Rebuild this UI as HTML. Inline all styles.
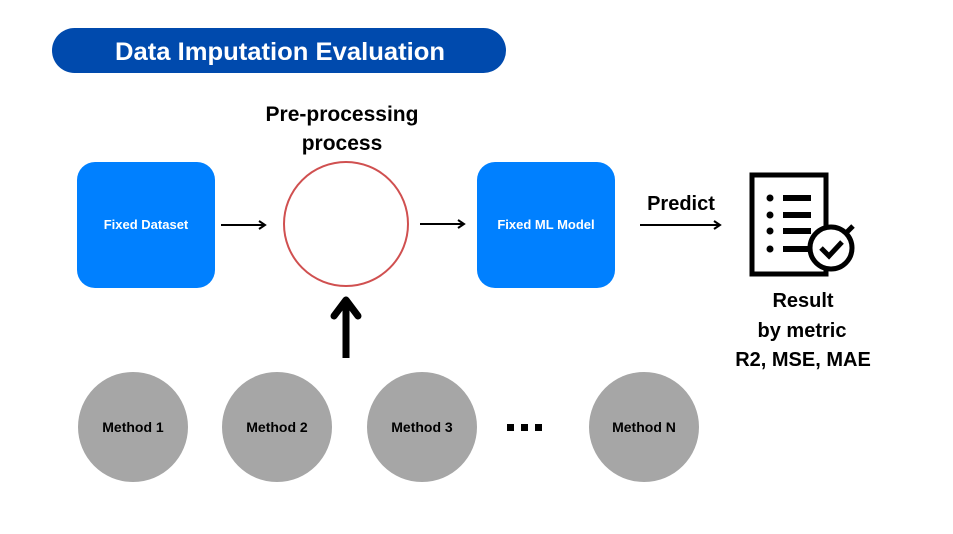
<!DOCTYPE html>
<html><head><style>
body{margin:0;background:#fff}
svg{display:block}
text{font-family:"Liberation Sans",Arial,sans-serif;font-weight:bold}
</style></head><body>
<svg width="953" height="534" viewBox="0 0 953 534" xmlns="http://www.w3.org/2000/svg">
<rect width="953" height="534" fill="#fff"/>
<rect x="52" y="28" width="454" height="45" rx="22.5" fill="#004aad"/>
<text x="280" y="60" text-anchor="middle" fill="#fff" font-size="25" textLength="330" lengthAdjust="spacingAndGlyphs">Data Imputation Evaluation</text>
<text x="342" y="121" text-anchor="middle" font-size="21">Pre-processing</text>
<text x="342" y="150" text-anchor="middle" font-size="21">process</text>
<rect x="77" y="162" width="138" height="126" rx="18" fill="#0080ff"/>
<text x="146" y="229" text-anchor="middle" fill="#fff" font-size="13">Fixed Dataset</text>
<rect x="477" y="162" width="138" height="126" rx="18" fill="#0080ff"/>
<text x="546" y="229" text-anchor="middle" fill="#fff" font-size="13">Fixed  ML Model</text>
<circle cx="346" cy="224" r="62" fill="none" stroke="#d05050" stroke-width="2"/>
<g stroke="#000" stroke-width="2" fill="none">
<line x1="221" y1="225" x2="264" y2="225"/><polyline points="259,221 265,225 259,229"/>
<line x1="420" y1="224" x2="463" y2="224"/><polyline points="458,220 464,224 458,228"/>
<line x1="640" y1="225" x2="719" y2="225"/><polyline points="714,221 720,225 714,229"/>
</g>
<line x1="346" y1="358" x2="346" y2="302" stroke="#000" stroke-width="7"/>
<polyline points="334,316 346,300 358,316" fill="none" stroke="#000" stroke-width="7" stroke-linecap="round" stroke-linejoin="round"/>
<text x="681" y="210" text-anchor="middle" font-size="20">Predict</text>
<rect x="752" y="175" width="74" height="99" fill="none" stroke="#000" stroke-width="5"/>
<g fill="#000">
<circle cx="770" cy="198" r="3.5"/><circle cx="770" cy="215" r="3.5"/><circle cx="770" cy="231" r="3.5"/><circle cx="770" cy="249" r="3.5"/>
<rect x="783" y="195" width="28" height="6"/><rect x="783" y="212" width="28" height="6"/><rect x="783" y="228" width="28" height="6"/><rect x="783" y="246" width="28" height="6"/>
</g>
<circle cx="831" cy="248" r="21" fill="#fff" stroke="#000" stroke-width="5"/>
<line x1="846" y1="233" x2="853" y2="226" stroke="#000" stroke-width="5"/>
<polyline points="821,248 829,256 842,242" fill="none" stroke="#000" stroke-width="5"/>
<text x="803" y="307" text-anchor="middle" font-size="20">Result</text>
<text x="802" y="337" text-anchor="middle" font-size="20">by metric</text>
<text x="803" y="366" text-anchor="middle" font-size="20">R2, MSE, MAE</text>
<g fill="#a6a6a6">
<circle cx="133" cy="427" r="55"/><circle cx="277" cy="427" r="55"/><circle cx="422" cy="427" r="55"/><circle cx="644" cy="427" r="55"/>
</g>
<g font-size="14" text-anchor="middle">
<text x="133" y="432">Method 1</text><text x="277" y="432">Method 2</text><text x="422" y="432">Method 3</text><text x="644" y="432">Method N</text>
</g>
<g fill="#000"><rect x="507" y="424" width="7" height="7"/><rect x="521" y="424" width="7" height="7"/><rect x="535" y="424" width="7" height="7"/></g>
</svg>
</body></html>
